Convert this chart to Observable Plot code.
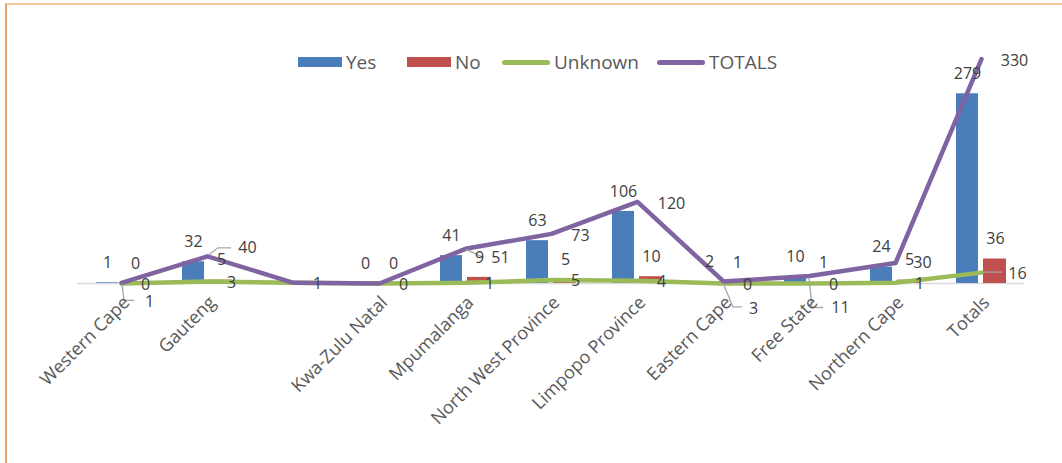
<!DOCTYPE html>
<html>
<head>
<meta charset="utf-8">
<script src="https://cdn.jsdelivr.net/npm/d3@7"></script>
<script src="https://cdn.jsdelivr.net/npm/@observablehq/plot@0.6"></script>
<style>
  body { margin: 0; background: #fff; }
  #wrap { position: relative; width: 1062px; height: 463px; overflow: hidden; font-family: "Open Sans", sans-serif; }
  #frame { position: absolute; left: 5px; top: 3px; right: -4px; bottom: -4px; border-left: 2px solid #EFA263; border-top: 2px solid #F5C79E; }
  #chart { position: absolute; left: 0; top: 0; }
  #legend { position: absolute; left: 0; top: 49px; width: 1062px; height: 26px; font-size: 19px; color: #595959; white-space: nowrap; }
  #legend .item { position: absolute; top: 0; display: flex; align-items: center; height: 26px; }
  #legend .sw { display: inline-block; margin-right: 4px; }
  #legend .bar { width: 44px; height: 10px; }
  #legend .line { width: 48px; height: 5px; border-radius: 3px; }
</style>
</head>
<body>
<div id="wrap">
  <div id="frame"></div>
  <div id="chart"></div>
  <div id="legend"></div>
</div>
<script>
// Provinces (the third column has no name in the source table)
const categories = ["Western Cape", "Gauteng", " ", "Kwa-Zulu Natal", "Mpumalanga", "North West Province",
  "Limpopo Province", "Eastern Cape", "Free State", "Northern Cape", "Totals"];
const yesValues     = [1, 32, null, 0, 41, 63, 106, 2, 10, 24, 279];
const noValues      = [0, 5, null, 0, 9, 5, 10, 1, 1, 5, 36];
const unknownValues = [0, 3, 1, 0, 1, 5, 4, 0, 0, 1, 16];
const totalValues   = [1, 40, 1, 0, 51, 73, 120, 3, 11, 30, 330];
const seriesNames   = ["Yes", "No", "Unknown", "TOTALS"];

const colors = { Yes: "#4A7EBB", No: "#C0504D", Unknown: "#9BBB59", TOTALS: "#8064A2" };
const labelColor = "#404040";

const rows = categories.map((cat, i) => ({
  cat, yes: yesValues[i], no: noValues[i], unknown: unknownValues[i], total: totalValues[i]
}));

// Pixel placement of the TOTALS value labels around each line vertex
const totalLabelPlacement = {
  "Western Cape": [28, 19],
  "Gauteng": [40, -8],
  "Mpumalanga": [35, 9],
  "North West Province": [29, 2],
  "Limpopo Province": [34, 2],
  "Eastern Cape": [30, 27],
  "Free State": [31, 32],
  "Northern Cape": [27, 0],
  "Totals": [33, 2]
};

// Leader lines from a vertex to its label (pixel offsets from the vertex)
const leaderLines = [
  { cat: "Western Cape", key: "total", path: [[1, 2], [3, 18], [13, 18]] },
  { cat: "Gauteng", key: "total", path: [[2, -1], [11, -8], [24, -8]] },
  { cat: "Mpumalanga", key: "total", path: [[1, 1], [18, 9]] },
  { cat: "Eastern Cape", key: "total", path: [[0, 2], [10, 26], [19, 26]] },
  { cat: "Free State", key: "total", path: [[0, 2], [3, 32], [14, 32]] },
  { cat: "Totals", key: "unknown", path: [[3, 0], [21, 0]] }
];

function leaders(index, scales) {
  const { x, y } = scales;
  const half = x.bandwidth ? x.bandwidth() / 2 : 0;
  const g = d3.create("svg:g")
    .attr("fill", "none").attr("stroke", "#A6A6A6").attr("stroke-width", 1.3);
  for (const L of leaderLines) {
    const row = rows.find(r => r.cat === L.cat);
    const cx = x(L.cat) + half, cy = y(row[L.key]);
    g.append("polyline").attr("points", L.path.map(([dx, dy]) => `${cx + dx},${cy + dy}`).join(" "));
  }
  return g.node();
}

const textStyle = { fill: labelColor, fontSize: 16 };

const chart = Plot.plot({
  width: 1062,
  height: 463,
  marginLeft: 77,
  marginRight: 38,
  marginTop: 45,
  marginBottom: 180,
  x: { type: "band", domain: categories, padding: 0, label: null },
  y: { domain: [0, 350], axis: null },
  style: { fontFamily: "'Open Sans', sans-serif", fontSize: "16px", background: "transparent", overflow: "visible" },
  marks: [
    Plot.ruleY([0], { stroke: "#D9D9D9", strokeWidth: 1.5 }),
    Plot.barY(rows.filter(d => d.yes != null), { x: "cat", y: "yes", fill: colors.Yes, insetLeft: 18, insetRight: 46 }),
    Plot.barY(rows.filter(d => d.no != null), { x: "cat", y: "no", fill: colors.No, insetLeft: 45, insetRight: 18 }),
    Plot.lineY(rows, { x: "cat", y: "unknown", stroke: colors.Unknown, strokeWidth: 4.5, strokeLinecap: "round", strokeLinejoin: "round" }),
    Plot.lineY(rows, { x: "cat", y: "total", stroke: colors.TOTALS, strokeWidth: 4.5, strokeLinecap: "round", strokeLinejoin: "round" }),
    leaders,
    Plot.text(rows.filter(d => d.yes != null), { x: "cat", y: "yes", text: d => String(d.yes), dx: -14, dy: -20, ...textStyle }),
    Plot.text(rows.filter(d => d.no != null), { x: "cat", y: "no", text: d => String(d.no), dx: 14, dy: -20, ...textStyle }),
    Plot.text(rows.filter(d => d.cat !== "Totals"), { x: "cat", y: "unknown", text: d => String(d.unknown), dx: 24, dy: 1, ...textStyle }),
    Plot.text(rows.filter(d => d.cat === "Totals"), { x: "cat", y: "unknown", text: d => String(d.unknown), dx: 36, dy: 1, ...textStyle }),
    ...Object.entries(totalLabelPlacement).map(([cat, [dx, dy]]) =>
      Plot.text(rows.filter(d => d.cat === cat), { x: "cat", y: "total", text: d => String(d.total), dx, dy, ...textStyle })
    ),
    Plot.axisX({ tickRotate: -45, tickSize: 0, tickPadding: 6, dx: 5, dy: 10, fontSize: 18, fill: "#595959", label: null })
  ]
});
document.getElementById("chart").append(chart);

// Legend, one entry per series
const legendLeft = [298, 407, 502, 657];
const legend = d3.select("#legend");
seriesNames.forEach((name, i) => {
  const item = legend.append("div").attr("class", "item").style("left", legendLeft[i] + "px");
  const isLine = name === "Unknown" || name === "TOTALS";
  item.append("span").attr("class", "sw " + (isLine ? "line" : "bar")).style("background", colors[name]);
  item.append("span").text(name);
});
</script>
</body>
</html>
